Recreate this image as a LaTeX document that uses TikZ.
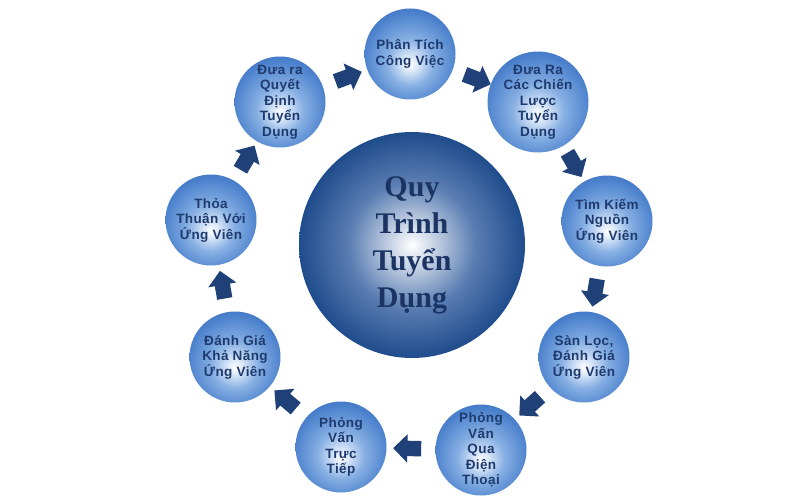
\documentclass[tikz,border=0pt]{standalone}
\usepackage{fontspec}
\setmainfont{Liberation Serif}
\setsansfont{Liberation Sans}[LetterSpace=3]
\usetikzlibrary{shapes.arrows,calc}

\definecolor{navy}{HTML}{1F4178}
\definecolor{textnavy}{HTML}{1E3A6E}
\definecolor{hubdark}{HTML}{1F4C8C}
\definecolor{hubmid}{HTML}{5A7DB2}
\definecolor{balledge}{HTML}{3A70BF}
\definecolor{ballrim}{HTML}{4A80CC}
\definecolor{ballmid}{HTML}{86AFE3}
\definecolor{balllight}{HTML}{DBE8F8}

\pgfdeclareradialshading{hubshade}{\pgfpoint{0bp}{0bp}}{color(0bp)=(white); color(5bp)=(hubmid!35!white); color(14bp)=(hubmid); color(25bp)=(hubdark); color(50bp)=(hubdark)}
\pgfdeclareradialshading{ballshade}{\pgfpoint{0bp}{-6bp}}{color(0bp)=(white); color(4bp)=(balllight); color(13bp)=(ballmid); color(26bp)=(ballrim); color(31bp)=(balledge); color(50bp)=(balledge)}

\begin{document}
\begin{tikzpicture}[x=1pt,y=-1pt,
    ball/.style={circle,shading=ballshade,minimum size=91pt,inner sep=0pt,align=center,text=textnavy,
      font=\sffamily\bfseries\fontsize{13.5}{15.5}\selectfont},
    hub/.style={circle,shading=hubshade,minimum size=226pt,inner sep=0pt,align=center,text=textnavy!90!black,
      font=\rmfamily\bfseries\fontsize{30}{37}\selectfont},
    flow/.style={single arrow,fill=navy,minimum height=28pt,inner sep=7.5pt,single arrow head extend=6.5pt}]
      \fill[white] (0,0) rectangle (800,500);
      \useasboundingbox (0,0) rectangle (800,500);
      \draw
        (412,245) node[hub] (0){Quy\\Trình\\Tuyển\\Dụng}
        (410,54) node[ball] (1){Phân Tích\\Công Việc}
        (538,102) node[ball] (2){Đưa Ra\\Các Chiến\\Lược\\Tuyển\\Dụng}
        (607,221) node[ball] (3){Tìm Kiếm\\Nguồn\\Ứng Viên}
        (584,357) node[ball] (4){Sàn Lọc,\\Đánh Giá\\Ứng Viên}
        (481,450) node[ball] (5){Phỏng\\Vấn\\Qua\\Điện\\Thoại}
        (341,447) node[ball] (6){Phỏng\\Vấn\\Trực\\Tiếp}
        (235,357) node[ball] (7){Đánh Giá\\Khả Năng\\Ứng Viên}
        (211,220) node[ball] (8){Thỏa\\Thuận Với\\Ứng Viên}
        (280,102) node[ball] (9){Đưa ra\\Quyết\\Định\\Tuyển\\Dụng};
      \foreach \a/\b in {9/1,1/2,2/3,3/4,4/5,5/6,6/7,7/8,8/9}
        \path let \p1=($(\b)-(\a)$), \n1={atan2(\y1,\x1)} in
          ($(\a)!0.5!(\b)$) node[flow,rotate=\n1] (a\a){};
    \end{tikzpicture}
\end{document}
